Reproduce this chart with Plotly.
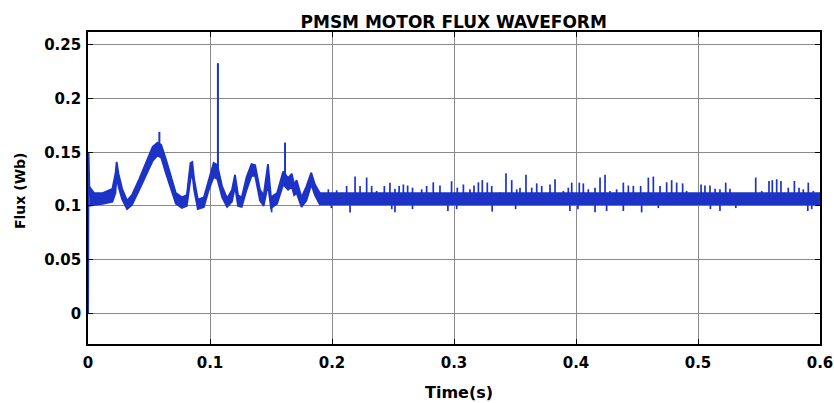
import plotly.graph_objects as go

# ---- data: flux waveform of the PMSM (Wb) versus time (s) ----
# start-up rise at t = 0
t_start = [0.0, 0.0004, 0.0012]
flux_start = [0.0, 0.150, 0.108]

# lower / upper envelope of the dense ripple band
t_env = [0.001, 0.005, 0.012, 0.020, 0.0225, 0.0235, 0.025, 0.028, 0.032, 0.036,
         0.042, 0.048, 0.053, 0.057, 0.060, 0.064, 0.068, 0.072, 0.077, 0.081,
         0.084, 0.0855, 0.087, 0.090, 0.095, 0.099, 0.103, 0.106, 0.110, 0.114,
         0.118, 0.1205, 0.123, 0.126, 0.130, 0.134, 0.137, 0.141, 0.144, 0.1475,
         0.150, 0.155, 0.160, 0.164, 0.167, 0.169, 0.171, 0.175, 0.179, 0.183,
         0.186, 0.190, 0.600]
flux_lo = [0.100, 0.101, 0.102, 0.104, 0.112, 0.128, 0.118, 0.106, 0.097, 0.101,
           0.115, 0.130, 0.142, 0.147, 0.145, 0.130, 0.115, 0.102, 0.098, 0.100,
           0.125, 0.130, 0.115, 0.097, 0.099, 0.115, 0.127, 0.125, 0.108, 0.099,
           0.104, 0.118, 0.100, 0.099, 0.115, 0.128, 0.128, 0.105, 0.100, 0.120,
           0.098, 0.102, 0.120, 0.115, 0.118, 0.110, 0.112, 0.099, 0.105, 0.120,
           0.110, 0.1015, 0.1015]
flux_hi = [0.118, 0.112, 0.112, 0.116, 0.130, 0.141, 0.130, 0.116, 0.105, 0.110,
           0.125, 0.142, 0.155, 0.159, 0.157, 0.143, 0.127, 0.112, 0.108, 0.110,
           0.140, 0.141, 0.125, 0.106, 0.108, 0.125, 0.140, 0.138, 0.118, 0.107,
           0.115, 0.129, 0.110, 0.108, 0.127, 0.139, 0.138, 0.115, 0.110, 0.139,
           0.108, 0.112, 0.132, 0.126, 0.130, 0.120, 0.124, 0.108, 0.118, 0.131,
           0.120, 0.112, 0.112]

# transient spikes: time, value where the spike leaves the band, peak value
burst_t = [0.0585, 0.1065, 0.1615]
burst_base = [0.150, 0.130, 0.125]
burst_peak = [0.169, 0.233, 0.159]

# steady-state upward spikes: time and peak value
spike_t = [0.197, 0.2038, 0.212, 0.2189, 0.223, 0.2284, 0.2325, 0.2366, 0.2429,
           0.2475, 0.2516, 0.255, 0.2585, 0.262, 0.266, 0.2735, 0.2776, 0.283,
           0.2885, 0.298, 0.3027, 0.3077, 0.3131, 0.3164, 0.320, 0.3232, 0.3273,
           0.3309, 0.3377, 0.3426, 0.3473, 0.3514, 0.3541, 0.359, 0.3637, 0.3678,
           0.3719, 0.3787, 0.3828, 0.3896, 0.3937, 0.3965, 0.4027, 0.406, 0.4101,
           0.4156, 0.4197, 0.4238, 0.4279, 0.4333, 0.4388, 0.4429, 0.447, 0.453,
           0.4593, 0.4634, 0.4689, 0.4743, 0.4784, 0.4825, 0.4874, 0.4907, 0.5025,
           0.5057, 0.5098, 0.514, 0.518, 0.5227, 0.5262, 0.5473, 0.5522, 0.5582,
           0.5609, 0.5645, 0.568, 0.574, 0.579, 0.5828, 0.5863, 0.5904, 0.5945]
spike_peak = [0.1155, 0.1146, 0.1186, 0.1274, 0.1186, 0.1264, 0.1186, 0.114, 0.1186,
              0.1217, 0.116, 0.1186, 0.120, 0.119, 0.117, 0.1155, 0.1186, 0.122,
              0.119, 0.123, 0.117, 0.120, 0.1155, 0.119, 0.122, 0.124, 0.1217,
              0.1186, 0.1124, 0.1304, 0.124, 0.1155, 0.117, 0.129, 0.117, 0.121,
              0.1186, 0.120, 0.1248, 0.114, 0.117, 0.1217, 0.1217, 0.121, 0.1155,
              0.117, 0.1264, 0.129, 0.114, 0.1155, 0.1217, 0.119, 0.1186, 0.1186,
              0.1264, 0.1274, 0.1186, 0.122, 0.124, 0.1217, 0.121, 0.114, 0.120,
              0.119, 0.119, 0.116, 0.1155, 0.1217, 0.116, 0.1264, 0.114, 0.1233,
              0.124, 0.1248, 0.1233, 0.117, 0.1233, 0.117, 0.1155, 0.1217, 0.114]

# downward dips: time and minimum value
dip_t = [0.1505, 0.1995, 0.2148, 0.249, 0.2516, 0.266, 0.295, 0.3022, 0.3313,
         0.3505, 0.395, 0.4016, 0.4156, 0.4251, 0.4388, 0.4538, 0.4675, 0.5102,
         0.518, 0.531, 0.590, 0.5932]
dip_val = [0.094, 0.098, 0.0938, 0.097, 0.094, 0.097, 0.0953, 0.097, 0.0947,
           0.097, 0.0953, 0.097, 0.094, 0.0953, 0.0953, 0.094, 0.098, 0.097,
           0.0953, 0.098, 0.0953, 0.097]

x_ticks = [0, 0.1, 0.2, 0.3, 0.4, 0.5, 0.6]
x_labels = ["0", "0.1", "0.2", "0.3", "0.4", "0.5", "0.6"]
y_ticks = [0, 0.05, 0.1, 0.15, 0.2, 0.25]
y_labels = ["0", "0.05", "0.1", "0.15", "0.2", "0.25"]

BLUE = "#1d33c6"
BAND_MID = 0.106

def segments(ts, ends, bases):
    xs, ys = [], []
    for t, v, b in zip(ts, ends, bases):
        xs += [t, t, None]
        ys += [b, v, None]
    return xs, ys

fig = go.Figure()

fig.add_trace(go.Scatter(x=t_env, y=flux_lo, mode="lines",
                         line=dict(color=BLUE, width=1.8), hoverinfo="skip"))
fig.add_trace(go.Scatter(x=t_env, y=flux_hi, mode="lines", fill="tonexty",
                         fillcolor=BLUE, line=dict(color=BLUE, width=1.8),
                         hoverinfo="skip"))

bx, by = segments(burst_t, burst_peak, burst_base)
fig.add_trace(go.Scatter(x=bx, y=by, mode="lines",
                         line=dict(color=BLUE, width=2), hoverinfo="skip"))
sx, sy = segments(spike_t, spike_peak, [BAND_MID] * len(spike_t))
fig.add_trace(go.Scatter(x=sx, y=sy, mode="lines",
                         line=dict(color=BLUE, width=1.7), hoverinfo="skip"))
dx, dy = segments(dip_t, dip_val, [BAND_MID] * len(dip_t))
fig.add_trace(go.Scatter(x=dx, y=dy, mode="lines",
                         line=dict(color=BLUE, width=1.7), hoverinfo="skip"))
fig.add_trace(go.Scatter(x=t_start, y=flux_start, mode="lines",
                         line=dict(color=BLUE, width=2), hoverinfo="skip"))

FONT = "DejaVu Sans, sans-serif"
axis_common = dict(
    showgrid=True, gridcolor="#8a8a8a", gridwidth=1,
    showline=True, linecolor="black", linewidth=1.6, mirror="ticks",
    ticks="inside", ticklen=5, tickcolor="black", tickwidth=1,
    zeroline=False, automargin=False,
    tickfont=dict(family=FONT, size=15, color="black", weight="bold"),
)

fig.update_layout(
    width=834, height=403,
    margin=dict(l=88, r=14, t=32, b=59),
    paper_bgcolor="white", plot_bgcolor="white",
    showlegend=False,
    title=dict(text="PMSM MOTOR FLUX WAVEFORM", x=0.544, xanchor="center",
               y=0.945, yanchor="middle",
               font=dict(family=FONT, size=17, color="black", weight="bold")),
    xaxis=dict(range=[0, 0.6], tickvals=x_ticks, ticktext=x_labels,
               ticklabelstandoff=4, **axis_common),
    yaxis=dict(range=[-0.0286, 0.262], tickvals=y_ticks, ticktext=y_labels,
               ticklabelstandoff=2, **axis_common),
    annotations=[
        dict(text="Time(s)", xref="paper", yref="paper", x=0.507, y=-0.157,
             xanchor="center", yanchor="middle", showarrow=False,
             font=dict(family=FONT, size=16, color="black", weight="bold")),
        dict(text="Flux (Wb)", xref="paper", yref="paper", x=-0.0929, y=0.4936,
             xanchor="center", yanchor="middle", showarrow=False, textangle=-90,
             font=dict(family=FONT, size=14, color="black", weight="bold")),
    ],
)

fig.write_html("out.html")
